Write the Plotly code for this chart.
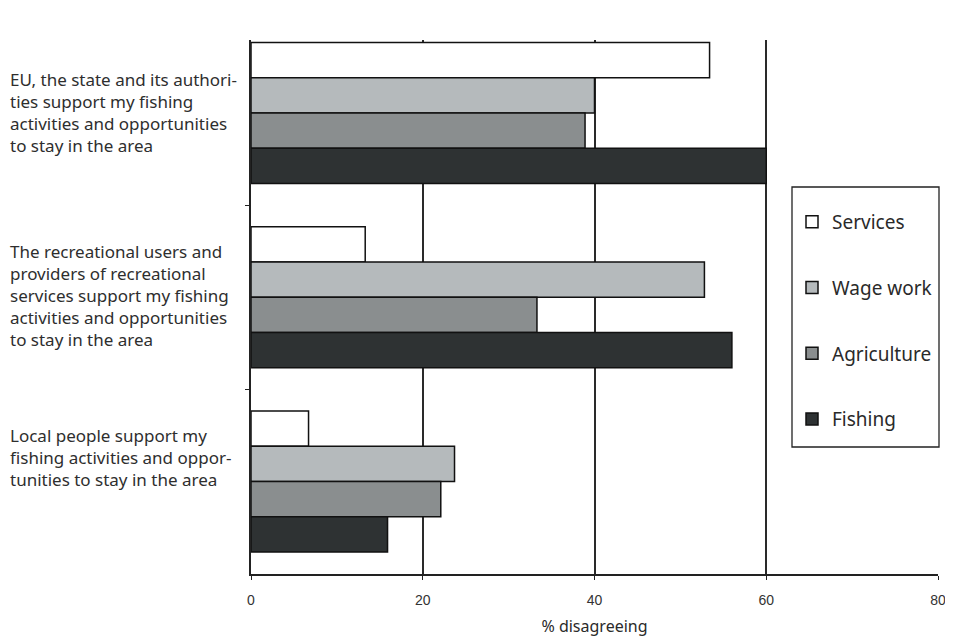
import plotly.graph_objects as go

statements = [
    "EU, the state and its authori-<br>ties support my fishing<br>activities and opportunities<br>to stay in the area",
    "The recreational users and<br>providers of recreational<br>services support my fishing<br>activities and opportunities<br>to stay in the area",
    "Local people support my<br>fishing activities and oppor-<br>tunities to stay in the area",
]
series_names = ["Services", "Wage work", "Agriculture", "Fishing"]
services = [53.4, 13.3, 6.7]
wage_work = [40.0, 52.8, 23.7]
agriculture = [38.9, 33.3, 22.1]
fishing = [60.0, 56.0, 15.9]
x_ticks = [0, 20, 40, 60, 80]

series_values = [services, wage_work, agriculture, fishing]
colors = ["#ffffff", "#b5babc", "#8a8e8f", "#2e3233"]

# page offset of the plotly div (browser body margin of 8px)
OFF = 8
W, H = 953 - 2 * OFF, 638 - OFF
top_px, bottom_px, left_px, right_px = 40, 574, 251, 938
pw, ph = right_px - left_px, bottom_px - top_px


def px_x(p):
    return (p - left_px) / pw


def px_y(p):
    return (bottom_px - p) / ph


fig = go.Figure()
for name, vals, col in zip(series_names, series_values, colors):
    fig.add_trace(go.Bar(
        y=statements, x=vals, name=name, orientation="h",
        marker=dict(color=col, line=dict(color="#111111", width=1.5)),
        legendgroup=name,
    ))

# statement labels on the left
label_centers_px = [112.5, 295, 457]
for txt, cy in zip(statements, label_centers_px):
    fig.add_annotation(
        text=txt, xref="paper", yref="paper",
        x=px_x(8), y=px_y(cy),
        xanchor="left", yanchor="middle", align="left", showarrow=False,
        font=dict(family="Noto Sans", size=17, color="#2e2e2e"),
    )

# legend frame
fig.add_shape(type="rect", xref="paper", yref="paper",
              x0=px_x(792), x1=px_x(939), y0=px_y(447), y1=px_y(187),
              line=dict(color="#222222", width=1.3), fillcolor="white",
              layer="above")

fig.update_layout(
    width=W, height=H,
    margin=dict(l=left_px - OFF, r=W - (right_px - OFF),
                t=top_px - OFF, b=H - (bottom_px - OFF),
                autoexpand=False),
    paper_bgcolor="white", plot_bgcolor="white",
    barmode="group", bargap=0.235, bargroupgap=0,
    showlegend=True,
    legend=dict(
        x=px_x(792), y=px_y(203),
        xanchor="left", yanchor="top",
        borderwidth=0, bgcolor="rgba(0,0,0,0)",
        font=dict(family="Noto Sans", size=19, color="#2a2a2a"),
        traceorder="grouped", tracegroupgap=38,
        itemwidth=30,
    ),
    xaxis=dict(
        range=[0, 80], tickvals=x_ticks, ticktext=[str(v) for v in x_ticks],
        automargin=False, ticklabeloverflow="allow",
        showgrid=True, gridcolor="#2a2a2a", gridwidth=1.5,
        showline=True, linecolor="#222222", linewidth=1.5,
        ticks="outside", ticklen=4, tickcolor="#222222",
        ticklabelstandoff=8,
        tickfont=dict(family="Liberation Sans", size=14, color="#333333"),
        zeroline=False,
        title=dict(text="% disagreeing", standoff=14,
                   font=dict(family="Noto Sans", size=16, color="#2a2a2a")),
    ),
    yaxis=dict(
        range=[2.502, -0.396], showticklabels=False, automargin=False,
        showline=True, linecolor="#222222", linewidth=1.5,
        ticks="outside", ticklen=4, tickson="boundaries", tickcolor="#222222",
        showgrid=False, zeroline=False,
    ),
)

fig.write_html("out.html")
